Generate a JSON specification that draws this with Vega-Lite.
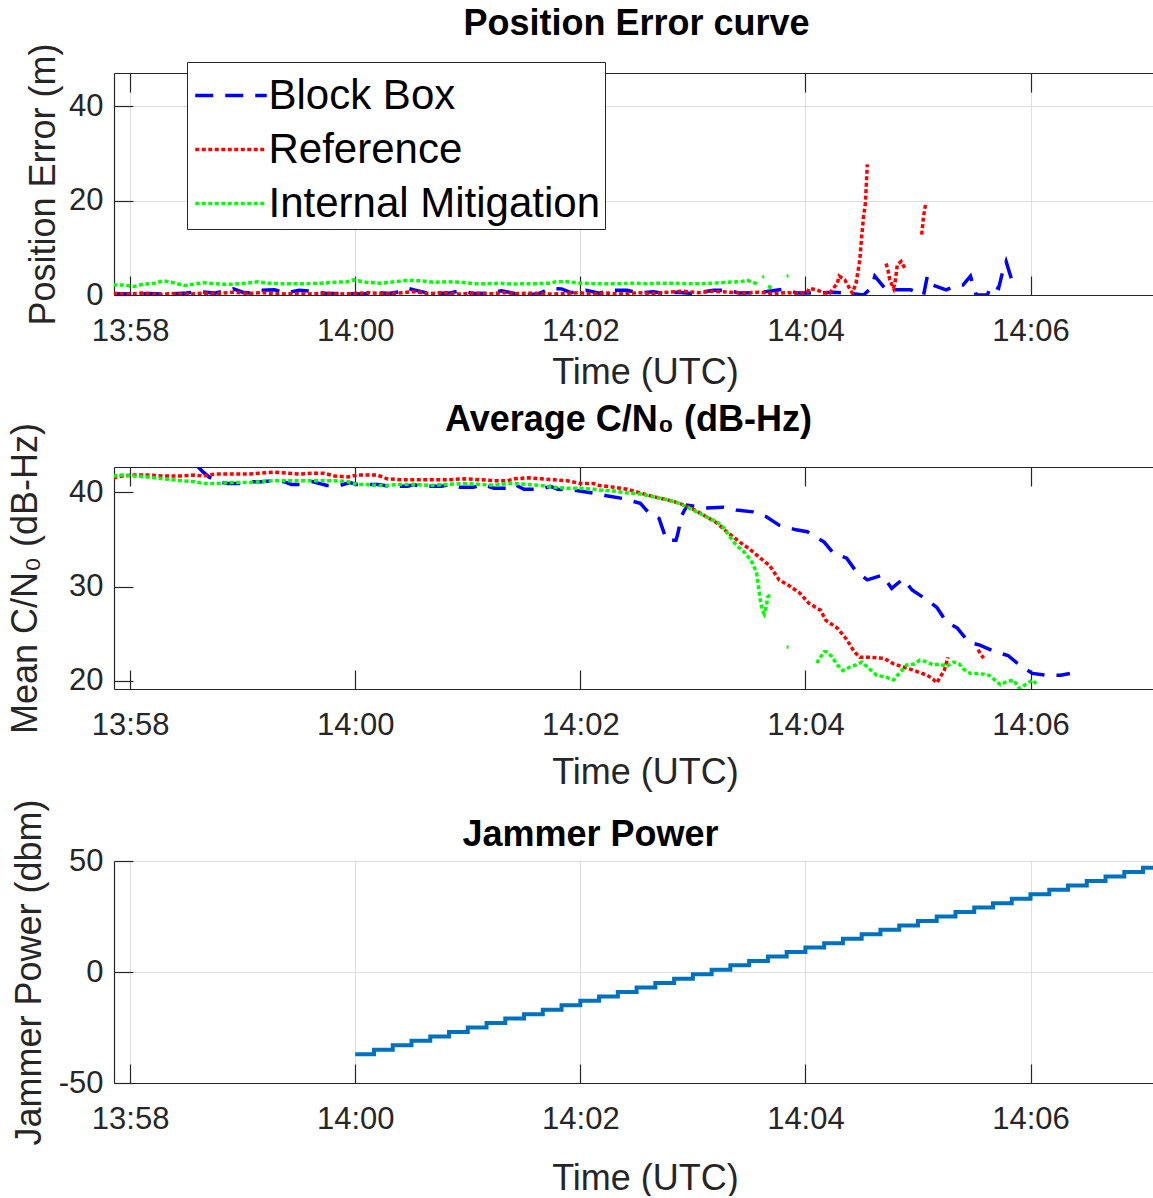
{
  "$schema": "https://vega.github.io/schema/vega-lite/v6.json",
  "background": "white",
  "autosize": {"type": "pad"},
  "padding": {"left": 6, "top": 5, "right": 0, "bottom": 0},
  "spacing": 172,
  "bounds": "flush",
  "config": {
    "font": "Liberation Sans",
    "view": {"stroke": null},
    "axis": {
      "labelFont": "Liberation Sans",
      "labelFontSize": 31,
      "labelColor": "#262626",
      "titleFont": "Liberation Sans",
      "titleFontSize": 36,
      "titleFontWeight": "normal",
      "titleColor": "#262626",
      "domainColor": "#262626",
      "domainWidth": 1.2,
      "tickColor": "#262626",
      "tickWidth": 1.2,
      "tickSize": -19,
      "gridColor": "#dedede",
      "gridWidth": 1,
      "labelFlush": false,
      "labelBound": false
    },
    "title": {
      "font": "Liberation Sans",
      "fontSize": 36,
      "fontWeight": "bold",
      "color": "#000000",
      "anchor": "middle",
      "frame": "group",
      "baseline": "alphabetic"
    }
  },
  "vconcat": [
    {
      "title": {"text": "Position Error curve", "offset": 0, "dx": 3},
      "width": 1039,
      "height": 222,
      "data": {
        "format": {"parse": {"time": "utc:'%H:%M:%S'"}},
        "values": [
          {"time": "13:57:51", "series": "Block Box", "value": 0.3},
          {"time": "13:58:00", "series": "Block Box", "value": 0.2},
          {"time": "13:58:10", "series": "Block Box", "value": 0.3},
          {"time": "13:58:20", "series": "Block Box", "value": 0.2},
          {"time": "13:58:30", "series": "Block Box", "value": 0.4},
          {"time": "13:58:37", "series": "Block Box", "value": 0.7},
          {"time": "13:58:45", "series": "Block Box", "value": 0.4},
          {"time": "13:58:50", "series": "Block Box", "value": 0.8},
          {"time": "13:58:55", "series": "Block Box", "value": 1.3},
          {"time": "13:59:00", "series": "Block Box", "value": 0.6},
          {"time": "13:59:05", "series": "Block Box", "value": 0.4},
          {"time": "13:59:10", "series": "Block Box", "value": 1.0},
          {"time": "13:59:17", "series": "Block Box", "value": 1.1},
          {"time": "13:59:23", "series": "Block Box", "value": 0.4},
          {"time": "13:59:30", "series": "Block Box", "value": 1.0},
          {"time": "13:59:36", "series": "Block Box", "value": 0.8},
          {"time": "13:59:45", "series": "Block Box", "value": 0.3},
          {"time": "13:59:55", "series": "Block Box", "value": 0.3},
          {"time": "14:00:05", "series": "Block Box", "value": 0.2},
          {"time": "14:00:10", "series": "Block Box", "value": 0.6},
          {"time": "14:00:18", "series": "Block Box", "value": 0.3},
          {"time": "14:00:25", "series": "Block Box", "value": 0.8},
          {"time": "14:00:28", "series": "Block Box", "value": 1.4},
          {"time": "14:00:32", "series": "Block Box", "value": 1.0},
          {"time": "14:00:40", "series": "Block Box", "value": 0.3},
          {"time": "14:00:50", "series": "Block Box", "value": 0.4},
          {"time": "14:00:56", "series": "Block Box", "value": 0.9},
          {"time": "14:01:03", "series": "Block Box", "value": 0.3},
          {"time": "14:01:12", "series": "Block Box", "value": 0.4},
          {"time": "14:01:18", "series": "Block Box", "value": 0.9},
          {"time": "14:01:25", "series": "Block Box", "value": 0.3},
          {"time": "14:01:32", "series": "Block Box", "value": 0.0},
          {"time": "14:01:38", "series": "Block Box", "value": 0.3},
          {"time": "14:01:44", "series": "Block Box", "value": 1.4},
          {"time": "14:01:50", "series": "Block Box", "value": 1.3},
          {"time": "14:01:55", "series": "Block Box", "value": 0.5},
          {"time": "14:02:03", "series": "Block Box", "value": 1.0},
          {"time": "14:02:10", "series": "Block Box", "value": 0.4},
          {"time": "14:02:17", "series": "Block Box", "value": 1.0},
          {"time": "14:02:25", "series": "Block Box", "value": 1.0},
          {"time": "14:02:31", "series": "Block Box", "value": 0.4},
          {"time": "14:02:39", "series": "Block Box", "value": 0.7},
          {"time": "14:02:45", "series": "Block Box", "value": 0.3},
          {"time": "14:02:52", "series": "Block Box", "value": 0.6},
          {"time": "14:03:00", "series": "Block Box", "value": 0.3},
          {"time": "14:03:11", "series": "Block Box", "value": 1.0},
          {"time": "14:03:18", "series": "Block Box", "value": 1.0},
          {"time": "14:03:25", "series": "Block Box", "value": 0.4},
          {"time": "14:03:35", "series": "Block Box", "value": 0.5},
          {"time": "14:03:48", "series": "Block Box", "value": 1.2},
          {"time": "14:03:56", "series": "Block Box", "value": 0.4},
          {"time": "14:04:04", "series": "Block Box", "value": 0.4},
          {"time": "14:04:15", "series": "Block Box", "value": 0.6},
          {"time": "14:04:24", "series": "Block Box", "value": 0.35},
          {"time": "14:04:31", "series": "Block Box", "value": 0.0},
          {"time": "14:04:34", "series": "Block Box", "value": 1.1},
          {"time": "14:04:36", "series": "Block Box", "value": 2.5},
          {"time": "14:04:37", "series": "Block Box", "value": 4.0},
          {"time": "14:04:43", "series": "Block Box", "value": 1.1},
          {"time": "14:04:49", "series": "Block Box", "value": 1.1},
          {"time": "14:04:56", "series": "Block Box", "value": 1.1},
          {"time": "14:05:03", "series": "Block Box", "value": 0.0},
          {"time": "14:05:05", "series": "Block Box", "value": 4.0},
          {"time": "14:05:08", "series": "Block Box", "value": 2.1},
          {"time": "14:05:15", "series": "Block Box", "value": 1.1},
          {"time": "14:05:21", "series": "Block Box", "value": 2.1},
          {"time": "14:05:24", "series": "Block Box", "value": 2.1},
          {"time": "14:05:28", "series": "Block Box", "value": 4.0},
          {"time": "14:05:31", "series": "Block Box", "value": 0.0},
          {"time": "14:05:37", "series": "Block Box", "value": 0.0},
          {"time": "14:05:39", "series": "Block Box", "value": 2.1},
          {"time": "14:05:43", "series": "Block Box", "value": 1.4},
          {"time": "14:05:45", "series": "Block Box", "value": 4.7},
          {"time": "14:05:47", "series": "Block Box", "value": 7.1},
          {"time": "14:05:50", "series": "Block Box", "value": 3.2},
          {"time": "14:05:52", "series": "Block Box", "value": 1.8},

          {"time": "13:57:51", "series": "Reference", "value": 0.3},
          {"time": "13:57:59", "series": "Reference", "value": 0.2},
          {"time": "13:58:07", "series": "Reference", "value": 0.4},
          {"time": "13:58:15", "series": "Reference", "value": 0.1},
          {"time": "13:58:23", "series": "Reference", "value": 0.3},
          {"time": "13:58:31", "series": "Reference", "value": 0.2},
          {"time": "13:58:39", "series": "Reference", "value": 0.4},
          {"time": "13:58:47", "series": "Reference", "value": 0.3},
          {"time": "13:58:55", "series": "Reference", "value": 0.6},
          {"time": "13:59:03", "series": "Reference", "value": 0.3},
          {"time": "13:59:11", "series": "Reference", "value": 0.5},
          {"time": "13:59:19", "series": "Reference", "value": 0.2},
          {"time": "13:59:27", "series": "Reference", "value": 0.3},
          {"time": "13:59:35", "series": "Reference", "value": 0.2},
          {"time": "13:59:43", "series": "Reference", "value": 0.4},
          {"time": "13:59:51", "series": "Reference", "value": 0.2},
          {"time": "13:59:59", "series": "Reference", "value": 0.3},
          {"time": "14:00:07", "series": "Reference", "value": 0.5},
          {"time": "14:00:15", "series": "Reference", "value": 0.3},
          {"time": "14:00:23", "series": "Reference", "value": 0.4},
          {"time": "14:00:31", "series": "Reference", "value": 0.7},
          {"time": "14:00:39", "series": "Reference", "value": 0.3},
          {"time": "14:00:47", "series": "Reference", "value": 0.5},
          {"time": "14:00:55", "series": "Reference", "value": 0.2},
          {"time": "14:01:03", "series": "Reference", "value": 0.4},
          {"time": "14:01:11", "series": "Reference", "value": 0.2},
          {"time": "14:01:19", "series": "Reference", "value": 0.5},
          {"time": "14:01:27", "series": "Reference", "value": 0.3},
          {"time": "14:01:35", "series": "Reference", "value": 0.4},
          {"time": "14:01:43", "series": "Reference", "value": 0.2},
          {"time": "14:01:51", "series": "Reference", "value": 0.3},
          {"time": "14:01:59", "series": "Reference", "value": 0.5},
          {"time": "14:02:07", "series": "Reference", "value": 0.2},
          {"time": "14:02:15", "series": "Reference", "value": 0.4},
          {"time": "14:02:23", "series": "Reference", "value": 0.2},
          {"time": "14:02:31", "series": "Reference", "value": 0.5},
          {"time": "14:02:39", "series": "Reference", "value": 0.3},
          {"time": "14:02:47", "series": "Reference", "value": 0.6},
          {"time": "14:02:55", "series": "Reference", "value": 0.8},
          {"time": "14:03:03", "series": "Reference", "value": 0.5},
          {"time": "14:03:11", "series": "Reference", "value": 0.8},
          {"time": "14:03:19", "series": "Reference", "value": 0.6},
          {"time": "14:03:27", "series": "Reference", "value": 0.4},
          {"time": "14:03:35", "series": "Reference", "value": 0.6},
          {"time": "14:03:43", "series": "Reference", "value": 0.3},
          {"time": "14:03:51", "series": "Reference", "value": 0.5},
          {"time": "14:03:57", "series": "Reference", "value": 0.3},
          {"time": "14:04:01", "series": "Reference", "value": 0.6},
          {"time": "14:04:02", "series": "Reference", "value": 1.4},
          {"time": "14:04:06", "series": "Reference", "value": 1.1},
          {"time": "14:04:10", "series": "Reference", "value": 0.4},
          {"time": "14:04:13", "series": "Reference", "value": 0.4},
          {"time": "14:04:17", "series": "Reference", "value": 2.5},
          {"time": "14:04:18", "series": "Reference", "value": 4.0},
          {"time": "14:04:21", "series": "Reference", "value": 3.2},
          {"time": "14:04:23", "series": "Reference", "value": 1.8},
          {"time": "14:04:25", "series": "Reference", "value": 0.4},
          {"time": "14:04:27", "series": "Reference", "value": 2.5},
          {"time": "14:04:29", "series": "Reference", "value": 7.4},
          {"time": "14:04:30", "series": "Reference", "value": 12.4},
          {"time": "14:04:31", "series": "Reference", "value": 16.7},
          {"time": "14:04:32", "series": "Reference", "value": 19.5},
          {"time": "14:04:33", "series": "Reference", "value": 27.7},
          {"time": "14:04:34", "series": "Reference", "value": null},
          {"time": "14:04:43", "series": "Reference", "value": 6.7},
          {"time": "14:04:44", "series": "Reference", "value": 5.3},
          {"time": "14:04:45", "series": "Reference", "value": 3.2},
          {"time": "14:04:47", "series": "Reference", "value": 1.4},
          {"time": "14:04:48", "series": "Reference", "value": 3.2},
          {"time": "14:04:49", "series": "Reference", "value": 6.4},
          {"time": "14:04:51", "series": "Reference", "value": 7.1},
          {"time": "14:04:53", "series": "Reference", "value": 5.7},
          {"time": "14:04:54", "series": "Reference", "value": null},
          {"time": "14:05:02", "series": "Reference", "value": 12.8},
          {"time": "14:05:03", "series": "Reference", "value": 16.7},
          {"time": "14:05:04", "series": "Reference", "value": 19.1},

          {"time": "13:57:51", "series": "Internal Mitigation", "value": 2.1},
          {"time": "13:57:57", "series": "Internal Mitigation", "value": 2.1},
          {"time": "13:58:02", "series": "Internal Mitigation", "value": 1.8},
          {"time": "13:58:07", "series": "Internal Mitigation", "value": 2.3},
          {"time": "13:58:13", "series": "Internal Mitigation", "value": 2.5},
          {"time": "13:58:18", "series": "Internal Mitigation", "value": 3.0},
          {"time": "13:58:23", "series": "Internal Mitigation", "value": 2.6},
          {"time": "13:58:29", "series": "Internal Mitigation", "value": 2.0},
          {"time": "13:58:34", "series": "Internal Mitigation", "value": 2.3},
          {"time": "13:58:39", "series": "Internal Mitigation", "value": 2.6},
          {"time": "13:58:45", "series": "Internal Mitigation", "value": 2.4},
          {"time": "13:58:50", "series": "Internal Mitigation", "value": 2.3},
          {"time": "13:58:55", "series": "Internal Mitigation", "value": 2.3},
          {"time": "13:59:02", "series": "Internal Mitigation", "value": 2.5},
          {"time": "13:59:08", "series": "Internal Mitigation", "value": 2.8},
          {"time": "13:59:13", "series": "Internal Mitigation", "value": 2.5},
          {"time": "13:59:20", "series": "Internal Mitigation", "value": 2.4},
          {"time": "13:59:27", "series": "Internal Mitigation", "value": 2.4},
          {"time": "13:59:34", "series": "Internal Mitigation", "value": 2.4},
          {"time": "13:59:42", "series": "Internal Mitigation", "value": 2.5},
          {"time": "13:59:49", "series": "Internal Mitigation", "value": 2.7},
          {"time": "13:59:56", "series": "Internal Mitigation", "value": 2.8},
          {"time": "13:59:59", "series": "Internal Mitigation", "value": 3.2},
          {"time": "14:00:06", "series": "Internal Mitigation", "value": 2.7},
          {"time": "14:00:14", "series": "Internal Mitigation", "value": 2.5},
          {"time": "14:00:21", "series": "Internal Mitigation", "value": 2.8},
          {"time": "14:00:28", "series": "Internal Mitigation", "value": 3.1},
          {"time": "14:00:35", "series": "Internal Mitigation", "value": 3.0},
          {"time": "14:00:42", "series": "Internal Mitigation", "value": 2.7},
          {"time": "14:00:49", "series": "Internal Mitigation", "value": 2.8},
          {"time": "14:00:56", "series": "Internal Mitigation", "value": 2.7},
          {"time": "14:01:03", "series": "Internal Mitigation", "value": 2.4},
          {"time": "14:01:10", "series": "Internal Mitigation", "value": 2.4},
          {"time": "14:01:17", "series": "Internal Mitigation", "value": 2.5},
          {"time": "14:01:24", "series": "Internal Mitigation", "value": 2.3},
          {"time": "14:01:30", "series": "Internal Mitigation", "value": 2.4},
          {"time": "14:01:37", "series": "Internal Mitigation", "value": 2.4},
          {"time": "14:01:44", "series": "Internal Mitigation", "value": 2.5},
          {"time": "14:01:47", "series": "Internal Mitigation", "value": 2.8},
          {"time": "14:01:53", "series": "Internal Mitigation", "value": 2.8},
          {"time": "14:02:00", "series": "Internal Mitigation", "value": 2.5},
          {"time": "14:02:07", "series": "Internal Mitigation", "value": 2.4},
          {"time": "14:02:14", "series": "Internal Mitigation", "value": 2.4},
          {"time": "14:02:21", "series": "Internal Mitigation", "value": 2.4},
          {"time": "14:02:28", "series": "Internal Mitigation", "value": 2.5},
          {"time": "14:02:35", "series": "Internal Mitigation", "value": 2.4},
          {"time": "14:02:43", "series": "Internal Mitigation", "value": 2.5},
          {"time": "14:02:50", "series": "Internal Mitigation", "value": 2.5},
          {"time": "14:02:57", "series": "Internal Mitigation", "value": 2.4},
          {"time": "14:03:04", "series": "Internal Mitigation", "value": 2.4},
          {"time": "14:03:11", "series": "Internal Mitigation", "value": 2.5},
          {"time": "14:03:18", "series": "Internal Mitigation", "value": 2.7},
          {"time": "14:03:25", "series": "Internal Mitigation", "value": 2.8},
          {"time": "14:03:29", "series": "Internal Mitigation", "value": 3.1},
          {"time": "14:03:32", "series": "Internal Mitigation", "value": 2.7},
          {"time": "14:03:35", "series": "Internal Mitigation", "value": 2.2},
          {"time": "14:03:36", "series": "Internal Mitigation", "value": null},
          {"time": "14:03:37", "series": "Internal Mitigation", "value": 3.8},
          {"time": "14:03:38", "series": "Internal Mitigation", "value": 3.9},
          {"time": "14:03:39", "series": "Internal Mitigation", "value": null},
          {"time": "14:03:40", "series": "Internal Mitigation", "value": 1.8},
          {"time": "14:03:43", "series": "Internal Mitigation", "value": 1.4},
          {"time": "14:03:44", "series": "Internal Mitigation", "value": null},
          {"time": "14:03:50", "series": "Internal Mitigation", "value": 4.0},
          {"time": "14:03:51", "series": "Internal Mitigation", "value": 4.1}
        ]
      },
      "layer": [
        {
          "mark": {"type": "line", "strokeWidth": 3.5, "clip": true, "invalid": "break-paths-show-domains"},
          "encoding": {
            "x": {
              "field": "time",
              "type": "temporal",
              "scale": {
                "type": "utc",
                "domain": [
                  {"year": 1900, "month": 1, "date": 1, "hours": 13, "minutes": 57, "seconds": 51, "milliseconds": 400, "utc": true},
                  {"year": 1900, "month": 1, "date": 1, "hours": 14, "minutes": 7, "seconds": 5, "milliseconds": 300, "utc": true}
                ]
              },
              "axis": {
                "orient": "bottom",
                "values": [
                  {"year": 1900, "month": 1, "date": 1, "hours": 13, "minutes": 58, "utc": true},
                  {"year": 1900, "month": 1, "date": 1, "hours": 14, "minutes": 0, "utc": true},
                  {"year": 1900, "month": 1, "date": 1, "hours": 14, "minutes": 2, "utc": true},
                  {"year": 1900, "month": 1, "date": 1, "hours": 14, "minutes": 4, "utc": true},
                  {"year": 1900, "month": 1, "date": 1, "hours": 14, "minutes": 6, "utc": true}
                ],
                "format": "%H:%M",
                "labelPadding": 40,
                "grid": true,
                "title": "Time (UTC)",
                "titleX": 531,
                "titleY": 88,
                "titleAlign": "center",
                "titleBaseline": "alphabetic"
              }
            },
            "y": {
              "field": "value",
              "type": "quantitative",
              "scale": {"domain": [0, 47.07], "nice": false, "zero": false},
              "axis": {
                "values": [0, 20, 40],
                "labelPadding": 30,
                "grid": true,
                "title": "Position Error (m)",
                "titleX": -60,
                "titleY": 111,
                "titleAngle": -90,
                "titleAlign": "center",
                "titleBaseline": "alphabetic"
              }
            },
            "color": {
              "field": "series",
              "type": "nominal",
              "scale": {"domain": ["Block Box", "Reference", "Internal Mitigation"], "range": ["#0000ff", "#ff0000", "#00ff00"]},
              "legend": {
                "title": null,
                "orient": "none",
                "legendX": 73,
                "legendY": -11,
                "symbolType": "M-1.3,0H1.3",
                "symbolSize": 3025,
                "symbolStrokeWidth": 3.5,
                "symbolOffset": 10.5,
                "labelFont": "Liberation Sans",
                "labelFontSize": 42,
                "labelColor": "#000000",
                "labelOffset": 8,
                "labelLimit": 600,
                "padding": 4,
                "rowPadding": 3,
                "strokeColor": "#262626",
                "fillColor": "#ffffff"
              }
            },
            "strokeDash": {
              "field": "series",
              "type": "nominal",
              "scale": {"domain": ["Block Box", "Reference", "Internal Mitigation"], "range": [[18, 12], [4, 2.5], [4, 2.5]]}
            }
          }
        },
        {
          "mark": {"type": "point", "opacity": 0},
          "encoding": {
            "x": {
              "field": "time",
              "type": "temporal",
              "axis": {
                "orient": "top",
                "values": [
                  {"year": 1900, "month": 1, "date": 1, "hours": 13, "minutes": 58, "utc": true},
                  {"year": 1900, "month": 1, "date": 1, "hours": 14, "minutes": 0, "utc": true},
                  {"year": 1900, "month": 1, "date": 1, "hours": 14, "minutes": 2, "utc": true},
                  {"year": 1900, "month": 1, "date": 1, "hours": 14, "minutes": 4, "utc": true},
                  {"year": 1900, "month": 1, "date": 1, "hours": 14, "minutes": 6, "utc": true}
                ],
                "labels": false,
                "grid": false,
                "title": null
              }
            },
            "y": {"field": "value", "type": "quantitative"}
          }
        }
      ],
      "resolve": {"axis": {"x": "independent"}}
    },
    {
      "title": {"text": "Average C/N₀ (dB-Hz)", "offset": -16, "dx": -5},
      "width": 1039,
      "height": 222,
      "data": {
        "format": {"parse": {"time": "utc:'%H:%M:%S'"}},
        "values": [
          {"time": "13:58:36", "series": "Block Box", "value": 42.7},
          {"time": "13:58:39", "series": "Block Box", "value": 42.1},
          {"time": "13:58:42", "series": "Block Box", "value": 41.6},
          {"time": "13:58:47", "series": "Block Box", "value": 41.1},
          {"time": "13:58:52", "series": "Block Box", "value": 40.9},
          {"time": "13:58:59", "series": "Block Box", "value": 40.9},
          {"time": "13:59:04", "series": "Block Box", "value": 41.1},
          {"time": "13:59:10", "series": "Block Box", "value": 41.1},
          {"time": "13:59:17", "series": "Block Box", "value": 41.2},
          {"time": "13:59:22", "series": "Block Box", "value": 41.1},
          {"time": "13:59:26", "series": "Block Box", "value": 40.8},
          {"time": "13:59:31", "series": "Block Box", "value": 40.8},
          {"time": "13:59:37", "series": "Block Box", "value": 41.1},
          {"time": "13:59:45", "series": "Block Box", "value": 40.7},
          {"time": "13:59:52", "series": "Block Box", "value": 40.7},
          {"time": "13:59:57", "series": "Block Box", "value": 41.0},
          {"time": "14:00:01", "series": "Block Box", "value": 40.8},
          {"time": "14:00:06", "series": "Block Box", "value": 40.8},
          {"time": "14:00:12", "series": "Block Box", "value": 40.8},
          {"time": "14:00:19", "series": "Block Box", "value": 40.6},
          {"time": "14:00:28", "series": "Block Box", "value": 40.6},
          {"time": "14:00:31", "series": "Block Box", "value": 40.8},
          {"time": "14:00:35", "series": "Block Box", "value": 40.6},
          {"time": "14:00:46", "series": "Block Box", "value": 40.6},
          {"time": "14:00:50", "series": "Block Box", "value": 40.8},
          {"time": "14:00:56", "series": "Block Box", "value": 40.5},
          {"time": "14:01:03", "series": "Block Box", "value": 40.5},
          {"time": "14:01:08", "series": "Block Box", "value": 40.8},
          {"time": "14:01:14", "series": "Block Box", "value": 40.4},
          {"time": "14:01:21", "series": "Block Box", "value": 40.4},
          {"time": "14:01:25", "series": "Block Box", "value": 40.8},
          {"time": "14:01:30", "series": "Block Box", "value": 40.3},
          {"time": "14:01:39", "series": "Block Box", "value": 40.3},
          {"time": "14:01:44", "series": "Block Box", "value": 40.6},
          {"time": "14:01:48", "series": "Block Box", "value": 40.3},
          {"time": "14:01:57", "series": "Block Box", "value": 40.2},
          {"time": "14:02:03", "series": "Block Box", "value": 40.0},
          {"time": "14:02:10", "series": "Block Box", "value": 39.8},
          {"time": "14:02:14", "series": "Block Box", "value": 39.6},
          {"time": "14:02:23", "series": "Block Box", "value": 39.3},
          {"time": "14:02:32", "series": "Block Box", "value": 38.8},
          {"time": "14:02:37", "series": "Block Box", "value": 37.7},
          {"time": "14:02:42", "series": "Block Box", "value": 37.2},
          {"time": "14:02:43", "series": "Block Box", "value": 36.6},
          {"time": "14:02:46", "series": "Block Box", "value": 34.9},
          {"time": "14:02:51", "series": "Block Box", "value": 34.9},
          {"time": "14:02:52", "series": "Block Box", "value": 35.6},
          {"time": "14:02:54", "series": "Block Box", "value": 37.5},
          {"time": "14:02:57", "series": "Block Box", "value": 38.6},
          {"time": "14:03:07", "series": "Block Box", "value": 38.3},
          {"time": "14:03:16", "series": "Block Box", "value": 38.4},
          {"time": "14:03:23", "series": "Block Box", "value": 38.1},
          {"time": "14:03:32", "series": "Block Box", "value": 37.9},
          {"time": "14:03:39", "series": "Block Box", "value": 37.4},
          {"time": "14:03:46", "series": "Block Box", "value": 36.5},
          {"time": "14:03:55", "series": "Block Box", "value": 36.0},
          {"time": "14:04:01", "series": "Block Box", "value": 35.8},
          {"time": "14:04:10", "series": "Block Box", "value": 34.7},
          {"time": "14:04:15", "series": "Block Box", "value": 33.5},
          {"time": "14:04:22", "series": "Block Box", "value": 33.0},
          {"time": "14:04:27", "series": "Block Box", "value": 31.6},
          {"time": "14:04:33", "series": "Block Box", "value": 30.7},
          {"time": "14:04:41", "series": "Block Box", "value": 31.2},
          {"time": "14:04:46", "series": "Block Box", "value": 29.8},
          {"time": "14:04:52", "series": "Block Box", "value": 30.8},
          {"time": "14:04:57", "series": "Block Box", "value": 29.6},
          {"time": "14:05:04", "series": "Block Box", "value": 28.7},
          {"time": "14:05:10", "series": "Block Box", "value": 27.8},
          {"time": "14:05:15", "series": "Block Box", "value": 26.3},
          {"time": "14:05:21", "series": "Block Box", "value": 25.6},
          {"time": "14:05:27", "series": "Block Box", "value": 24.1},
          {"time": "14:05:33", "series": "Block Box", "value": 23.8},
          {"time": "14:05:41", "series": "Block Box", "value": 23.1},
          {"time": "14:05:48", "series": "Block Box", "value": 22.7},
          {"time": "14:05:54", "series": "Block Box", "value": 21.7},
          {"time": "14:06:01", "series": "Block Box", "value": 20.8},
          {"time": "14:06:09", "series": "Block Box", "value": 20.6},
          {"time": "14:06:16", "series": "Block Box", "value": 20.6},
          {"time": "14:06:21", "series": "Block Box", "value": 20.8},

          {"time": "13:57:51", "series": "Reference", "value": 41.5},
          {"time": "13:57:56", "series": "Reference", "value": 41.7},
          {"time": "13:58:02", "series": "Reference", "value": 41.8},
          {"time": "13:58:09", "series": "Reference", "value": 41.8},
          {"time": "13:58:18", "series": "Reference", "value": 41.7},
          {"time": "13:58:27", "series": "Reference", "value": 41.7},
          {"time": "13:58:34", "series": "Reference", "value": 41.8},
          {"time": "13:58:39", "series": "Reference", "value": 41.7},
          {"time": "13:58:45", "series": "Reference", "value": 41.9},
          {"time": "13:58:54", "series": "Reference", "value": 41.9},
          {"time": "13:59:02", "series": "Reference", "value": 41.9},
          {"time": "13:59:10", "series": "Reference", "value": 42.0},
          {"time": "13:59:17", "series": "Reference", "value": 42.1},
          {"time": "13:59:24", "series": "Reference", "value": 42.0},
          {"time": "13:59:31", "series": "Reference", "value": 41.9},
          {"time": "13:59:38", "series": "Reference", "value": 42.0},
          {"time": "13:59:43", "series": "Reference", "value": 42.0},
          {"time": "13:59:49", "series": "Reference", "value": 41.7},
          {"time": "13:59:56", "series": "Reference", "value": 41.6},
          {"time": "14:00:01", "series": "Reference", "value": 41.8},
          {"time": "14:00:06", "series": "Reference", "value": 41.8},
          {"time": "14:00:12", "series": "Reference", "value": 41.8},
          {"time": "14:00:17", "series": "Reference", "value": 41.4},
          {"time": "14:00:24", "series": "Reference", "value": 41.3},
          {"time": "14:00:31", "series": "Reference", "value": 41.3},
          {"time": "14:00:40", "series": "Reference", "value": 41.3},
          {"time": "14:00:49", "series": "Reference", "value": 41.3},
          {"time": "14:00:58", "series": "Reference", "value": 41.4},
          {"time": "14:01:07", "series": "Reference", "value": 41.3},
          {"time": "14:01:14", "series": "Reference", "value": 41.2},
          {"time": "14:01:21", "series": "Reference", "value": 41.2},
          {"time": "14:01:25", "series": "Reference", "value": 41.4},
          {"time": "14:01:32", "series": "Reference", "value": 41.5},
          {"time": "14:01:39", "series": "Reference", "value": 41.4},
          {"time": "14:01:46", "series": "Reference", "value": 41.3},
          {"time": "14:01:53", "series": "Reference", "value": 41.2},
          {"time": "14:02:00", "series": "Reference", "value": 40.9},
          {"time": "14:02:07", "series": "Reference", "value": 40.9},
          {"time": "14:02:10", "series": "Reference", "value": 40.7},
          {"time": "14:02:18", "series": "Reference", "value": 40.5},
          {"time": "14:02:25", "series": "Reference", "value": 40.3},
          {"time": "14:02:32", "series": "Reference", "value": 39.9},
          {"time": "14:02:39", "series": "Reference", "value": 39.5},
          {"time": "14:02:46", "series": "Reference", "value": 39.2},
          {"time": "14:02:53", "series": "Reference", "value": 38.8},
          {"time": "14:03:00", "series": "Reference", "value": 38.2},
          {"time": "14:03:07", "series": "Reference", "value": 37.4},
          {"time": "14:03:13", "series": "Reference", "value": 36.7},
          {"time": "14:03:18", "series": "Reference", "value": 35.8},
          {"time": "14:03:25", "series": "Reference", "value": 34.7},
          {"time": "14:03:30", "series": "Reference", "value": 34.0},
          {"time": "14:03:36", "series": "Reference", "value": 33.0},
          {"time": "14:03:41", "series": "Reference", "value": 32.2},
          {"time": "14:03:46", "series": "Reference", "value": 30.7},
          {"time": "14:03:52", "series": "Reference", "value": 30.0},
          {"time": "14:03:57", "series": "Reference", "value": 29.3},
          {"time": "14:04:02", "series": "Reference", "value": 28.2},
          {"time": "14:04:08", "series": "Reference", "value": 27.5},
          {"time": "14:04:11", "series": "Reference", "value": 26.4},
          {"time": "14:04:17", "series": "Reference", "value": 25.6},
          {"time": "14:04:22", "series": "Reference", "value": 24.4},
          {"time": "14:04:26", "series": "Reference", "value": 23.1},
          {"time": "14:04:29", "series": "Reference", "value": 22.5},
          {"time": "14:04:34", "series": "Reference", "value": 22.5},
          {"time": "14:04:42", "series": "Reference", "value": 22.4},
          {"time": "14:04:47", "series": "Reference", "value": 21.8},
          {"time": "14:04:52", "series": "Reference", "value": 21.5},
          {"time": "14:04:58", "series": "Reference", "value": 21.1},
          {"time": "14:05:05", "series": "Reference", "value": 20.6},
          {"time": "14:05:08", "series": "Reference", "value": 20.2},
          {"time": "14:05:10", "series": "Reference", "value": 19.8},
          {"time": "14:05:14", "series": "Reference", "value": 21.1},
          {"time": "14:05:16", "series": "Reference", "value": 22.5},
          {"time": "14:05:17", "series": "Reference", "value": null},
          {"time": "14:05:32", "series": "Reference", "value": 23.3},
          {"time": "14:05:35", "series": "Reference", "value": 22.4},

          {"time": "13:57:51", "series": "Internal Mitigation", "value": 41.7},
          {"time": "13:57:56", "series": "Internal Mitigation", "value": 41.8},
          {"time": "13:58:02", "series": "Internal Mitigation", "value": 41.7},
          {"time": "13:58:09", "series": "Internal Mitigation", "value": 41.6},
          {"time": "13:58:18", "series": "Internal Mitigation", "value": 41.4},
          {"time": "13:58:27", "series": "Internal Mitigation", "value": 41.2},
          {"time": "13:58:34", "series": "Internal Mitigation", "value": 41.1},
          {"time": "13:58:39", "series": "Internal Mitigation", "value": 40.9},
          {"time": "13:58:45", "series": "Internal Mitigation", "value": 40.9},
          {"time": "13:58:54", "series": "Internal Mitigation", "value": 41.0},
          {"time": "13:59:02", "series": "Internal Mitigation", "value": 41.0},
          {"time": "13:59:10", "series": "Internal Mitigation", "value": 41.1},
          {"time": "13:59:17", "series": "Internal Mitigation", "value": 41.2},
          {"time": "13:59:24", "series": "Internal Mitigation", "value": 41.2},
          {"time": "13:59:31", "series": "Internal Mitigation", "value": 41.2},
          {"time": "13:59:38", "series": "Internal Mitigation", "value": 41.2},
          {"time": "13:59:43", "series": "Internal Mitigation", "value": 41.2},
          {"time": "13:59:49", "series": "Internal Mitigation", "value": 41.2},
          {"time": "13:59:56", "series": "Internal Mitigation", "value": 41.1},
          {"time": "14:00:01", "series": "Internal Mitigation", "value": 40.8},
          {"time": "14:00:06", "series": "Internal Mitigation", "value": 40.8},
          {"time": "14:00:12", "series": "Internal Mitigation", "value": 40.7},
          {"time": "14:00:17", "series": "Internal Mitigation", "value": 40.7},
          {"time": "14:00:24", "series": "Internal Mitigation", "value": 40.8},
          {"time": "14:00:31", "series": "Internal Mitigation", "value": 40.8},
          {"time": "14:00:40", "series": "Internal Mitigation", "value": 40.7},
          {"time": "14:00:49", "series": "Internal Mitigation", "value": 40.8},
          {"time": "14:00:58", "series": "Internal Mitigation", "value": 40.9},
          {"time": "14:01:07", "series": "Internal Mitigation", "value": 40.8},
          {"time": "14:01:14", "series": "Internal Mitigation", "value": 40.7},
          {"time": "14:01:21", "series": "Internal Mitigation", "value": 40.9},
          {"time": "14:01:25", "series": "Internal Mitigation", "value": 40.9},
          {"time": "14:01:32", "series": "Internal Mitigation", "value": 40.8},
          {"time": "14:01:39", "series": "Internal Mitigation", "value": 40.7},
          {"time": "14:01:46", "series": "Internal Mitigation", "value": 40.5},
          {"time": "14:01:53", "series": "Internal Mitigation", "value": 40.4},
          {"time": "14:02:00", "series": "Internal Mitigation", "value": 40.4},
          {"time": "14:02:07", "series": "Internal Mitigation", "value": 40.3},
          {"time": "14:02:11", "series": "Internal Mitigation", "value": 40.2},
          {"time": "14:02:18", "series": "Internal Mitigation", "value": 40.1},
          {"time": "14:02:25", "series": "Internal Mitigation", "value": 39.9},
          {"time": "14:02:32", "series": "Internal Mitigation", "value": 39.8},
          {"time": "14:02:39", "series": "Internal Mitigation", "value": 39.5},
          {"time": "14:02:46", "series": "Internal Mitigation", "value": 39.2},
          {"time": "14:02:53", "series": "Internal Mitigation", "value": 38.8},
          {"time": "14:03:00", "series": "Internal Mitigation", "value": 38.1},
          {"time": "14:03:07", "series": "Internal Mitigation", "value": 37.4},
          {"time": "14:03:13", "series": "Internal Mitigation", "value": 36.8},
          {"time": "14:03:16", "series": "Internal Mitigation", "value": 36.3},
          {"time": "14:03:20", "series": "Internal Mitigation", "value": 35.2},
          {"time": "14:03:23", "series": "Internal Mitigation", "value": 34.4},
          {"time": "14:03:27", "series": "Internal Mitigation", "value": 33.7},
          {"time": "14:03:30", "series": "Internal Mitigation", "value": 33.0},
          {"time": "14:03:32", "series": "Internal Mitigation", "value": 32.4},
          {"time": "14:03:34", "series": "Internal Mitigation", "value": 31.4},
          {"time": "14:03:35", "series": "Internal Mitigation", "value": 30.0},
          {"time": "14:03:36", "series": "Internal Mitigation", "value": 28.5},
          {"time": "14:03:37", "series": "Internal Mitigation", "value": 27.5},
          {"time": "14:03:38", "series": "Internal Mitigation", "value": 27.1},
          {"time": "14:03:39", "series": "Internal Mitigation", "value": 27.8},
          {"time": "14:03:40", "series": "Internal Mitigation", "value": 28.9},
          {"time": "14:03:42", "series": "Internal Mitigation", "value": 29.3},
          {"time": "14:03:43", "series": "Internal Mitigation", "value": null},
          {"time": "14:03:50", "series": "Internal Mitigation", "value": 23.6},
          {"time": "14:03:51", "series": "Internal Mitigation", "value": 23.6},
          {"time": "14:03:52", "series": "Internal Mitigation", "value": null},
          {"time": "14:04:06", "series": "Internal Mitigation", "value": 21.9},
          {"time": "14:04:10", "series": "Internal Mitigation", "value": 23.1},
          {"time": "14:04:11", "series": "Internal Mitigation", "value": 23.1},
          {"time": "14:04:14", "series": "Internal Mitigation", "value": 22.6},
          {"time": "14:04:17", "series": "Internal Mitigation", "value": 21.7},
          {"time": "14:04:20", "series": "Internal Mitigation", "value": 21.1},
          {"time": "14:04:24", "series": "Internal Mitigation", "value": 21.5},
          {"time": "14:04:27", "series": "Internal Mitigation", "value": 21.7},
          {"time": "14:04:30", "series": "Internal Mitigation", "value": 22.0},
          {"time": "14:04:34", "series": "Internal Mitigation", "value": 21.3},
          {"time": "14:04:38", "series": "Internal Mitigation", "value": 20.6},
          {"time": "14:04:43", "series": "Internal Mitigation", "value": 20.4},
          {"time": "14:04:47", "series": "Internal Mitigation", "value": 20.1},
          {"time": "14:04:50", "series": "Internal Mitigation", "value": 20.8},
          {"time": "14:04:54", "series": "Internal Mitigation", "value": 21.7},
          {"time": "14:04:58", "series": "Internal Mitigation", "value": 21.8},
          {"time": "14:05:01", "series": "Internal Mitigation", "value": 22.2},
          {"time": "14:05:05", "series": "Internal Mitigation", "value": 22.0},
          {"time": "14:05:08", "series": "Internal Mitigation", "value": 21.7},
          {"time": "14:05:12", "series": "Internal Mitigation", "value": 21.8},
          {"time": "14:05:15", "series": "Internal Mitigation", "value": 21.5},
          {"time": "14:05:19", "series": "Internal Mitigation", "value": 22.0},
          {"time": "14:05:22", "series": "Internal Mitigation", "value": 21.8},
          {"time": "14:05:24", "series": "Internal Mitigation", "value": 21.3},
          {"time": "14:05:28", "series": "Internal Mitigation", "value": 20.8},
          {"time": "14:05:33", "series": "Internal Mitigation", "value": 20.8},
          {"time": "14:05:38", "series": "Internal Mitigation", "value": 20.6},
          {"time": "14:05:44", "series": "Internal Mitigation", "value": 19.6},
          {"time": "14:05:47", "series": "Internal Mitigation", "value": 19.9},
          {"time": "14:05:51", "series": "Internal Mitigation", "value": 20.1},
          {"time": "14:05:54", "series": "Internal Mitigation", "value": 19.2},
          {"time": "14:05:58", "series": "Internal Mitigation", "value": 19.7},
          {"time": "14:06:01", "series": "Internal Mitigation", "value": 20.1},
          {"time": "14:06:03", "series": "Internal Mitigation", "value": 19.7}
        ]
      },
      "layer": [
        {
          "mark": {"type": "line", "strokeWidth": 3.5, "clip": true, "invalid": "break-paths-show-domains"},
          "encoding": {
            "x": {
              "field": "time",
              "type": "temporal",
              "scale": {
                "type": "utc",
                "domain": [
                  {"year": 1900, "month": 1, "date": 1, "hours": 13, "minutes": 57, "seconds": 51, "milliseconds": 400, "utc": true},
                  {"year": 1900, "month": 1, "date": 1, "hours": 14, "minutes": 7, "seconds": 5, "milliseconds": 300, "utc": true}
                ]
              },
              "axis": {
                "orient": "bottom",
                "values": [
                  {"year": 1900, "month": 1, "date": 1, "hours": 13, "minutes": 58, "utc": true},
                  {"year": 1900, "month": 1, "date": 1, "hours": 14, "minutes": 0, "utc": true},
                  {"year": 1900, "month": 1, "date": 1, "hours": 14, "minutes": 2, "utc": true},
                  {"year": 1900, "month": 1, "date": 1, "hours": 14, "minutes": 4, "utc": true},
                  {"year": 1900, "month": 1, "date": 1, "hours": 14, "minutes": 6, "utc": true}
                ],
                "format": "%H:%M",
                "labelPadding": 40,
                "grid": false,
                "title": "Time (UTC)",
                "titleX": 531,
                "titleY": 94,
                "titleAlign": "center",
                "titleBaseline": "alphabetic"
              }
            },
            "y": {
              "field": "value",
              "type": "quantitative",
              "scale": {"domain": [19.15, 42.65], "nice": false, "zero": false},
              "axis": {
                "values": [20, 30, 40],
                "labelPadding": 30,
                "grid": false,
                "title": "Mean C/N₀ (dB-Hz)",
                "titleX": -78,
                "titleY": 111,
                "titleAngle": -90,
                "titleAlign": "center",
                "titleBaseline": "alphabetic"
              }
            },
            "color": {
              "field": "series",
              "type": "nominal",
              "scale": {"domain": ["Block Box", "Reference", "Internal Mitigation"], "range": ["#0000ff", "#ff0000", "#00ff00"]},
              "legend": null
            },
            "strokeDash": {
              "field": "series",
              "type": "nominal",
              "scale": {"domain": ["Block Box", "Reference", "Internal Mitigation"], "range": [[18, 12], [4, 2.5], [4, 2.5]]},
              "legend": null
            }
          }
        },
        {
          "mark": {"type": "point", "opacity": 0},
          "encoding": {
            "x": {
              "field": "time",
              "type": "temporal",
              "axis": {
                "orient": "top",
                "values": [
                  {"year": 1900, "month": 1, "date": 1, "hours": 13, "minutes": 58, "utc": true},
                  {"year": 1900, "month": 1, "date": 1, "hours": 14, "minutes": 0, "utc": true},
                  {"year": 1900, "month": 1, "date": 1, "hours": 14, "minutes": 2, "utc": true},
                  {"year": 1900, "month": 1, "date": 1, "hours": 14, "minutes": 4, "utc": true},
                  {"year": 1900, "month": 1, "date": 1, "hours": 14, "minutes": 6, "utc": true}
                ],
                "labels": false,
                "grid": false,
                "title": null
              }
            },
            "y": {"field": "value", "type": "quantitative"}
          }
        }
      ],
      "resolve": {"axis": {"x": "independent"}}
    },
    {
      "title": {"text": "Jammer Power", "offset": -55, "dx": -43},
      "width": 1039,
      "height": 222,
      "data": {
        "format": {"parse": {"time": "utc:'%H:%M:%S'"}},
        "values": [
          {"time": "14:00:00", "power": -37},
          {"time": "14:00:10", "power": -35},
          {"time": "14:00:20", "power": -33},
          {"time": "14:00:30", "power": -31},
          {"time": "14:00:40", "power": -29},
          {"time": "14:00:50", "power": -27},
          {"time": "14:01:00", "power": -25},
          {"time": "14:01:10", "power": -23},
          {"time": "14:01:20", "power": -21},
          {"time": "14:01:30", "power": -19},
          {"time": "14:01:40", "power": -17},
          {"time": "14:01:50", "power": -15},
          {"time": "14:02:00", "power": -13},
          {"time": "14:02:10", "power": -11},
          {"time": "14:02:20", "power": -9},
          {"time": "14:02:30", "power": -7},
          {"time": "14:02:40", "power": -5},
          {"time": "14:02:50", "power": -3},
          {"time": "14:03:00", "power": -1},
          {"time": "14:03:10", "power": 1},
          {"time": "14:03:20", "power": 3},
          {"time": "14:03:30", "power": 5},
          {"time": "14:03:40", "power": 7},
          {"time": "14:03:50", "power": 9},
          {"time": "14:04:00", "power": 11},
          {"time": "14:04:10", "power": 13},
          {"time": "14:04:20", "power": 15},
          {"time": "14:04:30", "power": 17},
          {"time": "14:04:40", "power": 19},
          {"time": "14:04:50", "power": 21},
          {"time": "14:05:00", "power": 23},
          {"time": "14:05:10", "power": 25},
          {"time": "14:05:20", "power": 27},
          {"time": "14:05:30", "power": 29},
          {"time": "14:05:40", "power": 31},
          {"time": "14:05:50", "power": 33},
          {"time": "14:06:00", "power": 35},
          {"time": "14:06:10", "power": 37},
          {"time": "14:06:20", "power": 39},
          {"time": "14:06:30", "power": 41},
          {"time": "14:06:40", "power": 43},
          {"time": "14:06:50", "power": 45},
          {"time": "14:07:00", "power": 47},
          {"time": "14:07:06", "power": 47}
        ]
      },
      "mark": {"type": "line", "interpolate": "step-after", "color": "#0072bd", "strokeWidth": 4, "clip": true},
      "encoding": {
        "x": {
          "field": "time",
          "type": "temporal",
          "scale": {
            "type": "utc",
            "domain": [
              {"year": 1900, "month": 1, "date": 1, "hours": 13, "minutes": 57, "seconds": 51, "milliseconds": 400, "utc": true},
              {"year": 1900, "month": 1, "date": 1, "hours": 14, "minutes": 7, "seconds": 5, "milliseconds": 300, "utc": true}
            ]
          },
          "axis": {
            "orient": "bottom",
            "values": [
              {"year": 1900, "month": 1, "date": 1, "hours": 13, "minutes": 58, "utc": true},
              {"year": 1900, "month": 1, "date": 1, "hours": 14, "minutes": 0, "utc": true},
              {"year": 1900, "month": 1, "date": 1, "hours": 14, "minutes": 2, "utc": true},
              {"year": 1900, "month": 1, "date": 1, "hours": 14, "minutes": 4, "utc": true},
              {"year": 1900, "month": 1, "date": 1, "hours": 14, "minutes": 6, "utc": true}
            ],
            "format": "%H:%M",
            "labelPadding": 40,
            "grid": true,
            "title": "Time (UTC)",
            "titleX": 531,
            "titleY": 106,
            "titleAlign": "center",
            "titleBaseline": "alphabetic"
          }
        },
        "y": {
          "field": "power",
          "type": "quantitative",
          "scale": {"domain": [-50, 50], "nice": false, "zero": false},
          "axis": {
            "values": [-50, 0, 50],
            "labelExpr": "replace(datum.label, '−', '-')",
            "labelPadding": 30,
            "grid": true,
            "title": "Jammer Power (dbm)",
            "titleX": -74,
            "titleY": 111,
            "titleAngle": -90,
            "titleAlign": "center",
            "titleBaseline": "alphabetic"
          }
        }
      }
    }
  ]
}
